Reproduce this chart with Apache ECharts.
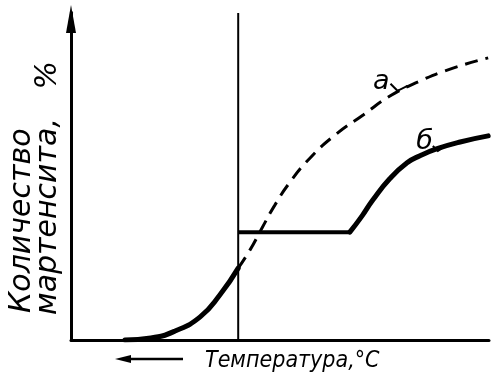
<!DOCTYPE html>
<html>
<head>
<meta charset="utf-8">
<script src="https://cdn.jsdelivr.net/npm/echarts@6/dist/echarts.min.js"></script>
<style>html,body{margin:0;padding:0;background:#fff}#main{width:500px;height:383px}</style>
</head>
<body>
<div id="main"></div>
<script>
// кривая б, нижняя часть (до вертикали)
const lowX = [12.9, 19.1, 24.9, 30.9, 35.6, 40.0];
const lowY = [0, 0.6, 2.8, 7.2, 14.0, 22.4];
// площадка
const flatX = [40.0, 66.7];
const flatY = [33.6, 33.6];
// кривая б, верхняя часть
const upX = [66.7, 69.6, 72.2, 76.3, 80.4, 83.5, 87.6, 93.1, 99.8];
const upY = [33.6, 38.6, 43.6, 50.3, 55.2, 57.4, 59.6, 61.7, 63.6];
// кривая а (пунктир)
const dashX = [40, 42.8, 45.7, 48.8, 52.4, 57.2, 63.2, 69.9, 76.3, 83.5, 90.7, 99.8];
const dashY = [22.4, 28.0, 34.9, 42.1, 49.2, 56.7, 63.9, 70.1, 76.0, 80.7, 84.4, 87.9];
// вертикальная линия
const vlineX = [40, 40];
const vlineY = [0, 101.9];

const yTitle1 = 'Количество';
const yTitle2 = 'мартенсита,   %';
const xTitle = 'Температура,°С';
const labelA = 'а';
const labelB = 'б';

const pairs = (xs, ys) => xs.map((x, i) => [x, ys[i]]);
const font = '"DejaVu Sans", sans-serif';
const narrow = '"DejaVu Sans Condensed", "Liberation Sans Narrow", "DejaVu Sans", sans-serif';

const chart = echarts.init(document.getElementById('main'));
const option = {
  animation: false,
  backgroundColor: '#fff',
  grid: { left: 71, right: 11, top: 12.6, bottom: 43 },
  xAxis: {
    type: 'value', min: 0, max: 100,
    axisLine: { lineStyle: { color: '#000', width: 3 } },
    axisTick: { show: false }, axisLabel: { show: false }, splitLine: { show: false }
  },
  yAxis: {
    type: 'value', min: 0, max: 102,
    axisLine: {
      lineStyle: { color: '#000', width: 3 },
      symbol: ['none', 'triangle'], symbolSize: [10, 28], symbolOffset: [0, -6.4]
    },
    axisTick: { show: false }, axisLabel: { show: false }, splitLine: { show: false }
  },
  series: [
    { type: 'line', data: pairs(vlineX, vlineY), symbol: 'none', clip: false,
      lineStyle: { color: '#000', width: 2 } },
    { type: 'line', data: pairs(dashX, dashY), symbol: 'none', smooth: 0.5,
      lineStyle: { color: '#000', width: 3, type: [13, 8] } },
    { type: 'line', data: pairs(lowX, lowY), symbol: 'none', smooth: 0.5,
      lineStyle: { color: '#000', width: 5, cap: 'round' } },
    { type: 'line', data: pairs(flatX, flatY), symbol: 'none',
      lineStyle: { color: '#000', width: 4 } },
    { type: 'line', data: pairs(upX, upY), symbol: 'none', smooth: 0.5,
      lineStyle: { color: '#000', width: 5, cap: 'round' } }
  ]
};
chart.setOption(option);

// подписи и стрелка
const pA = chart.convertToPixel({ gridIndex: 0 }, [80.5, 79.5]);
const pB = chart.convertToPixel({ gridIndex: 0 }, [88, 59.5]);
chart.setOption({
  graphic: [
    { type: 'text', x: 22, y: 313, rotation: Math.PI / 2,
      style: { text: yTitle1, font: 'italic 30px ' + font, fill: '#000', textAlign: 'left', textVerticalAlign: 'middle' } },
    { type: 'text', x: 48, y: 315, rotation: Math.PI / 2,
      style: { text: yTitle2, font: 'italic 30px ' + font, fill: '#000', textAlign: 'left', textVerticalAlign: 'middle' } },
    { type: 'text', x: 205, y: 361,
      style: { text: xTitle, font: 'italic 23px ' + narrow, fill: '#000', textAlign: 'left', textVerticalAlign: 'middle' } },
    { type: 'line', shape: { x1: 130, y1: 359, x2: 183, y2: 359 }, style: { stroke: '#000', lineWidth: 2.5 } },
    { type: 'polygon', shape: { points: [[115, 359], [131, 355], [131, 363]] }, style: { fill: '#000' } },
    { type: 'text', x: pA[0] - 18, y: pA[1] + 11,
      style: { text: labelA, font: 'italic 27px ' + font, fill: '#000', textAlign: 'right', textVerticalAlign: 'bottom' } },
    { type: 'polyline', shape: { points: [[pA[0] - 17, pA[1] - 1], [pA[0] - 10, pA[1] + 6], [pA[0], pA[1] + 1]] },
      style: { stroke: '#000', lineWidth: 2, fill: null } },
    { type: 'text', x: pB[0] - 6, y: pB[1] + 6,
      style: { text: labelB, font: 'italic 27px ' + font, fill: '#000', textAlign: 'right', textVerticalAlign: 'bottom' } },
    { type: 'polyline', shape: { points: [[pB[0] - 6, pB[1] - 3], [pB[0] - 1, pB[1] + 2], [pB[0] + 5, pB[1] - 2]] },
      style: { stroke: '#000', lineWidth: 2, fill: null } }
  ]
});
</script>
</body>
</html>
